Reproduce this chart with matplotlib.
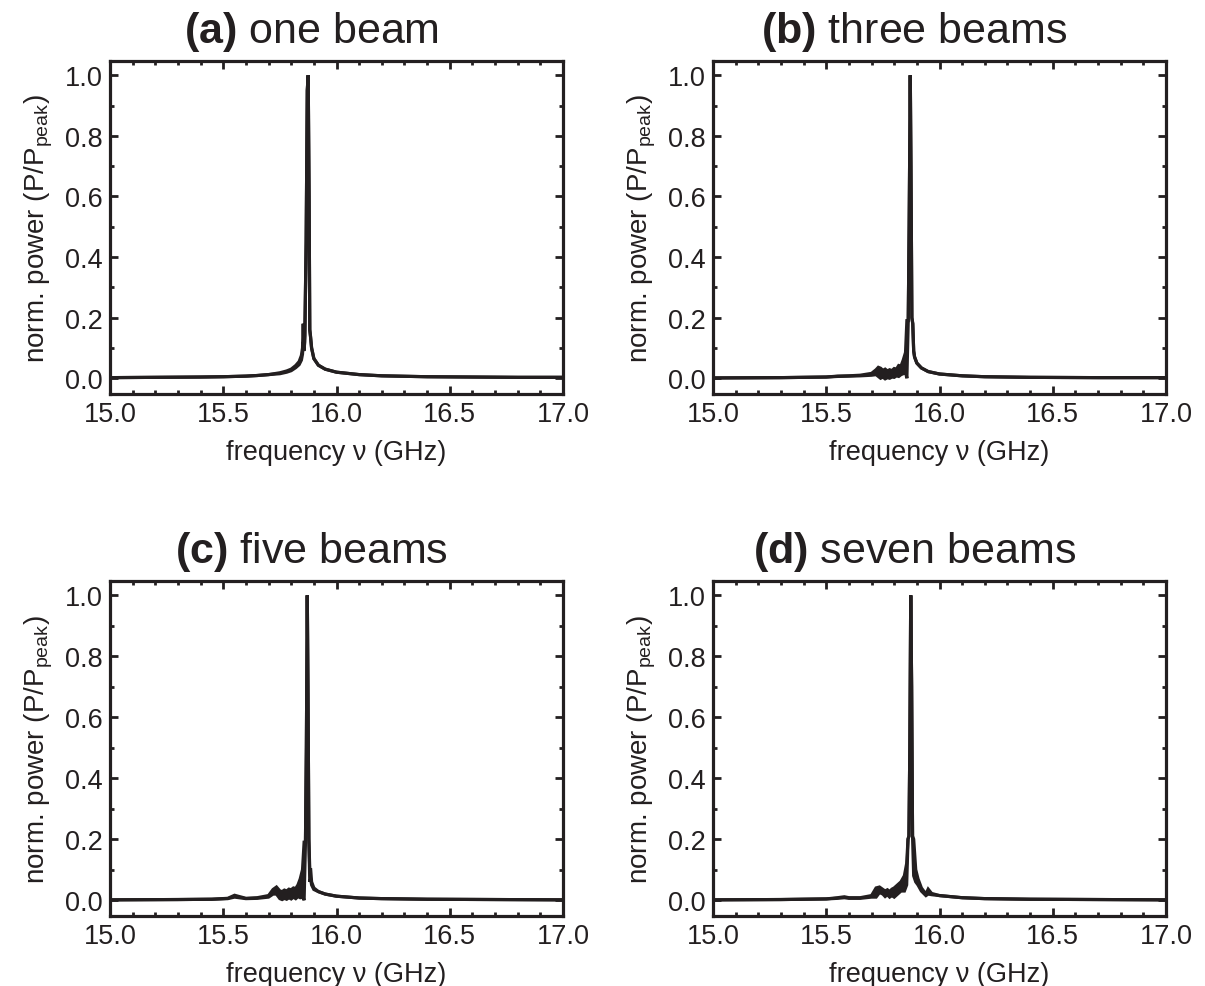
import matplotlib
matplotlib.use("Agg")
import matplotlib.pyplot as plt
from matplotlib.ticker import MultipleLocator

plt.rcParams['font.family'] = ['Liberation Sans', 'DejaVu Sans']
plt.rcParams['mathtext.fontset'] = 'custom'
plt.rcParams['mathtext.rm'] = 'Liberation Sans'
plt.rcParams['mathtext.bf'] = 'Liberation Sans:bold'
plt.rcParams['mathtext.default'] = 'regular'

# ---------------- data ----------------
labels = ["(a)", "(b)", "(c)", "(d)"]
names = ["one beam", "three beams", "five beams", "seven beams"]

freq_a = [15.0, 15.2, 15.4, 15.5, 15.6, 15.65, 15.7, 15.75, 15.78, 15.8, 15.82, 15.835,
          15.845, 15.85, 15.853, 15.856, 15.86, 15.866, 15.871, 15.875, 15.879, 15.882,
          15.885, 15.89, 15.9, 15.92, 15.95, 16.0, 16.1, 16.2, 16.4, 16.6, 16.8, 17.0]
hi_a = [0.002, 0.003, 0.004, 0.005, 0.007, 0.009, 0.012, 0.018, 0.024, 0.03, 0.042, 0.055,
        0.075, 0.10, 0.18, 0.10, 0.14, 0.45, 0.95, 1.0, 0.6, 0.16, 0.14, 0.10, 0.065, 0.043,
        0.03, 0.02, 0.012, 0.008, 0.005, 0.004, 0.003, 0.003]
lo_a = [0.002, 0.003, 0.004, 0.005, 0.007, 0.009, 0.012, 0.015, 0.02, 0.025, 0.035, 0.045,
        0.06, 0.08, 0.12, 0.09, 0.12, 0.45, 0.95, 1.0, 0.6, 0.16, 0.14, 0.10, 0.065, 0.043,
        0.03, 0.02, 0.012, 0.008, 0.005, 0.004, 0.003, 0.003]

freq_b = [15.0, 15.3, 15.5, 15.55, 15.6, 15.65, 15.7, 15.72, 15.73, 15.74, 15.75, 15.76,
          15.77, 15.78, 15.79, 15.8, 15.81, 15.82, 15.83, 15.84, 15.85, 15.856, 15.862,
          15.866, 15.871, 15.874, 15.878, 15.882, 15.886, 15.89, 15.9, 15.92, 15.95, 16.0,
          16.1, 16.2, 16.4, 16.7, 17.0]
hi_b = [0.001, 0.002, 0.004, 0.007, 0.008, 0.01, 0.016, 0.028, 0.036, 0.033, 0.026, 0.03,
        0.024, 0.028, 0.025, 0.032, 0.03, 0.042, 0.04, 0.06, 0.085, 0.19, 0.19, 0.5, 1.0,
        0.7, 0.2, 0.18, 0.09, 0.07, 0.05, 0.034, 0.022, 0.014, 0.008, 0.005, 0.003, 0.002,
        0.002]
lo_b = [0.001, 0.002, 0.004, 0.006, 0.007, 0.008, 0.01, 0.012, 0.006, 0.0, 0.004, -0.002,
        0.002, 0.0, 0.004, 0.003, 0.008, 0.006, 0.012, 0.015, 0.02, 0.0, 0.19, 0.5, 1.0,
        0.7, 0.2, 0.18, 0.09, 0.07, 0.05, 0.034, 0.022, 0.014, 0.008, 0.005, 0.003, 0.002,
        0.002]

freq_c = [15.0, 15.3, 15.45, 15.52, 15.55, 15.57, 15.6, 15.65, 15.7, 15.72, 15.735, 15.75,
          15.76, 15.77, 15.78, 15.79, 15.8, 15.81, 15.82, 15.83, 15.84, 15.85, 15.857,
          15.863, 15.867, 15.871, 15.874, 15.878, 15.882, 15.886, 15.89, 15.9, 15.92, 15.95,
          16.0, 16.1, 16.2, 16.4, 16.7, 17.0]
hi_c = [0.001, 0.002, 0.003, 0.006, 0.016, 0.012, 0.006, 0.008, 0.015, 0.035, 0.043, 0.03,
        0.028, 0.033, 0.03, 0.036, 0.034, 0.04, 0.038, 0.05, 0.07, 0.1, 0.19, 0.19, 0.5,
        1.0, 0.7, 0.2, 0.1, 0.1, 0.06, 0.04, 0.028, 0.02, 0.013, 0.007, 0.005, 0.003,
        0.002, 0.001]
lo_c = [0.001, 0.002, 0.003, 0.005, 0.01, 0.008, 0.005, 0.006, 0.01, 0.02, 0.02, 0.005,
        0.002, 0.006, 0.003, 0.008, 0.004, 0.01, 0.005, 0.012, 0.008, 0.01, 0.0, 0.19, 0.5,
        1.0, 0.7, 0.2, 0.06, 0.07, 0.05, 0.035, 0.028, 0.02, 0.013, 0.007, 0.005, 0.003,
        0.002, 0.001]

freq_d = [15.0, 15.3, 15.5, 15.55, 15.58, 15.6, 15.65, 15.7, 15.72, 15.735, 15.75, 15.76,
          15.77, 15.78, 15.79, 15.8, 15.815, 15.83, 15.845, 15.855, 15.861, 15.865, 15.869,
          15.873, 15.877, 15.881, 15.886, 15.895, 15.905, 15.92, 15.94, 15.95, 15.965, 16.0,
          16.1, 16.2, 16.4, 16.7, 17.0]
hi_d = [0.001, 0.002, 0.004, 0.008, 0.011, 0.008, 0.008, 0.015, 0.04, 0.043, 0.035, 0.03,
        0.034, 0.028, 0.036, 0.04, 0.05, 0.06, 0.08, 0.12, 0.2, 0.21, 0.5, 1.0, 0.7, 0.21,
        0.2, 0.1, 0.07, 0.04, 0.02, 0.036, 0.022, 0.015, 0.008, 0.005, 0.003, 0.002, 0.001]
lo_d = [0.001, 0.002, 0.004, 0.006, 0.008, 0.006, 0.006, 0.01, 0.01, 0.025, 0.02, 0.012,
        0.018, 0.01, 0.015, 0.01, 0.02, 0.03, 0.03, 0.05, 0.2, 0.21, 0.5, 1.0, 0.7, 0.21,
        0.08, 0.06, 0.05, 0.03, 0.015, 0.02, 0.018, 0.015, 0.008, 0.005, 0.003, 0.002,
        0.001]

freqs = [freq_a, freq_b, freq_c, freq_d]
his = [hi_a, hi_b, hi_c, hi_d]
los = [lo_a, lo_b, lo_c, lo_d]

xticks = [15.0, 15.5, 16.0, 16.5, 17.0]
yticks = [0.0, 0.2, 0.4, 0.6, 0.8, 1.0]

# ---------------- figure ----------------
W, H = 1205, 987
fig = plt.figure(figsize=(W / 100, H / 100), dpi=100)

boxes = [
    (110, 62, 563, 395),
    (713, 62, 1166, 395),
    (110, 582, 563, 917),
    (713, 582, 1166, 917),
]

ink = "#231f20"
for i, (x0, y0, x1, y1) in enumerate(boxes):
    ax = fig.add_axes([x0 / W, 1 - y1 / H, (x1 - x0) / W, (y1 - y0) / H])
    f, hi, lo = freqs[i], his[i], los[i]
    ax.fill_between(f, lo, hi, color=ink, lw=0)
    ax.plot(f, hi, color=ink, lw=2.3, solid_joinstyle='miter')
    ax.plot(f, lo, color=ink, lw=2.3, solid_joinstyle='miter')
    ax.set_xlim(15.0, 17.0)
    ax.set_ylim(-0.052, 1.047)
    ax.set_xticks(xticks)
    ax.set_yticks(yticks)
    ax.set_xticklabels([f"{v:.1f}" for v in xticks])
    ax.set_yticklabels([f"{v:.1f}" for v in yticks])
    ax.xaxis.set_minor_locator(MultipleLocator(0.1))
    ax.yaxis.set_minor_locator(MultipleLocator(0.1))
    ax.tick_params(which='both', direction='in', top=True, right=True,
                   width=2.0, color=ink, labelsize=19.5, labelcolor=ink)
    ax.tick_params(which='major', length=5.5, pad=5)
    ax.tick_params(which='minor', length=3)
    for s in ax.spines.values():
        s.set_linewidth(2.3)
        s.set_color(ink)
    ax.set_xlabel("frequency ν (GHz)", fontsize=19.5, color=ink, labelpad=9)
    ax.set_ylabel(r"norm. power (P/P$_{\mathrm{peak}}$)", fontsize=20, color=ink,
                  labelpad=7)
    cx = ((x0 + x1) / 2 - 25) / W
    ty = 1 - (y0 - 19) / H
    fig.text(cx, ty, r"$\mathbf{" + labels[i] + "}$ " + names[i], fontsize=31,
             color=ink, ha='center', va='baseline')

fig.savefig("out.png", dpi=100)
